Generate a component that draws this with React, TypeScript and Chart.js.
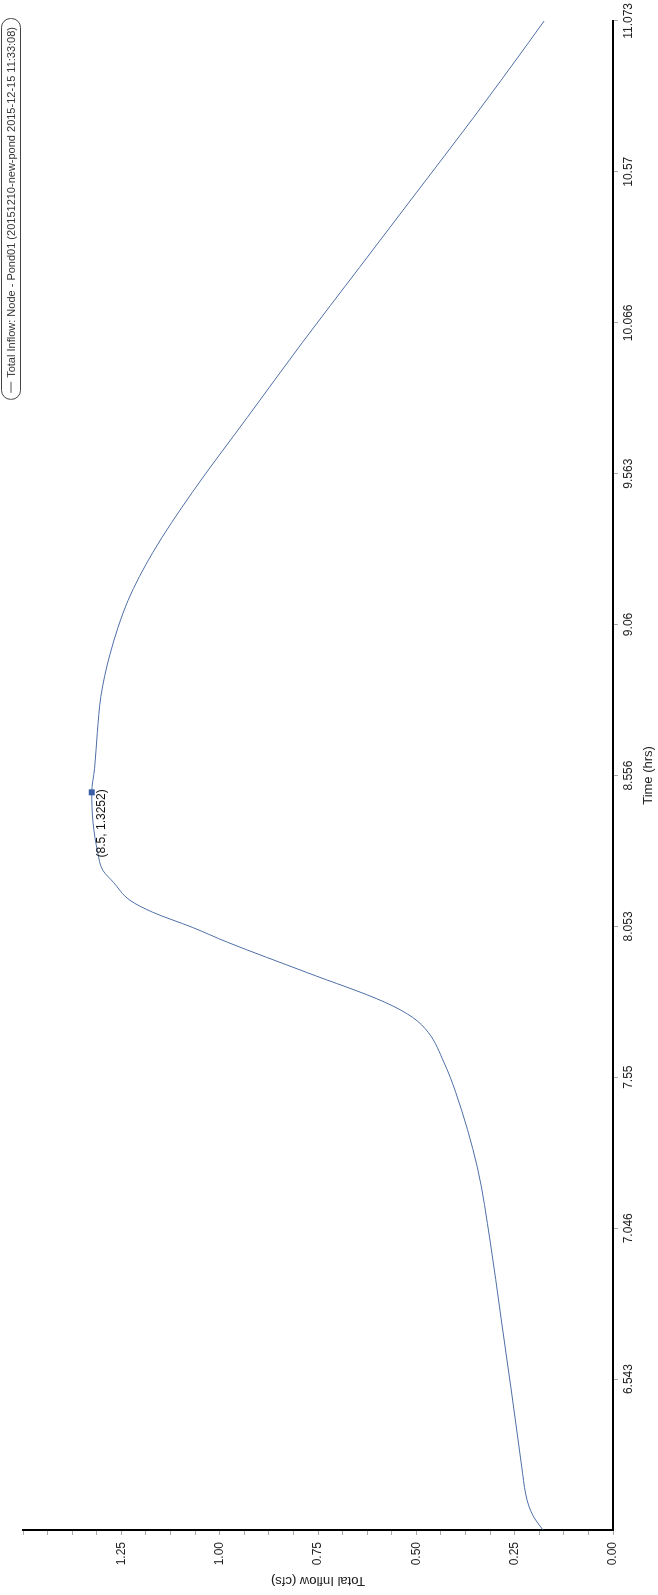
import React, { useEffect, useRef } from "react";
import { Chart, registerables } from "chart.js";

Chart.register(...registerables);

// ---- data ----
const TIME_HRS = [
  6.04, 6.08, 6.12, 6.16, 6.25, 6.5, 6.75, 7.0, 7.25, 7.5, 7.6, 7.7, 7.75, 7.8,
  7.9, 8.0, 8.05, 8.1, 8.14, 8.2, 8.24, 8.3, 8.4, 8.5, 8.58, 8.7, 8.82, 8.96,
  9.14, 9.3, 9.5, 9.75, 10.0, 10.25, 10.5, 10.75, 11.0, 11.073,
];
const TOTAL_INFLOW = [
  0.178, 0.2, 0.214, 0.222, 0.232, 0.258, 0.285, 0.312, 0.345, 0.4, 0.43, 0.47,
  0.51, 0.58, 0.78, 0.98, 1.07, 1.17, 1.228, 1.27, 1.297, 1.31, 1.322, 1.3252,
  1.318, 1.311, 1.302, 1.279, 1.233, 1.17, 1.07, 0.93, 0.79, 0.645, 0.5, 0.355,
  0.215, 0.175,
];
const TIME_TICKS = [6.543, 7.046, 7.55, 8.053, 8.556, 9.06, 9.563, 10.066, 10.57, 11.073];
const TIME_MIN = 6.0397;
const TIME_MAX = 11.073;
const INFLOW_LABELED_TICKS = [0, 0.25, 0.5, 0.75, 1.0, 1.25];
const INFLOW_MAX = 1.5;
const INFLOW_MINOR_STEP = 0.0625;
const PEAK_TIME = 8.5;
const PEAK_VALUE = 1.3252;
const PEAK_LABEL = "(8.5, 1.3252)";
const LEGEND_TEXT = "Total Inflow: Node - Pond01 (20151210-new-pond 2015-12-15 11:33:08)";
const X_TITLE = "Time (hrs)";
const Y_TITLE = "Total Inflow (cfs)";

const LINE_COLOR = "#4f6fa6";
const FONT = "'Liberation Sans', Arial, sans-serif";

const W = 1595; // unrotated width
const H = 658; // unrotated height

export default function App() {
  const ref = useRef<HTMLCanvasElement | null>(null);

  useEffect(() => {
    document.body.style.margin = "0";
    const canvas = ref.current;
    if (!canvas) return;

    const overlay = {
      id: "overlay",
      afterDatasetsDraw(chart: any) {
        const ctx = chart.ctx;
        const xs = chart.scales.x;
        const ys = chart.scales.y;
        const px = xs.getPixelForValue(PEAK_TIME);
        const py = ys.getPixelForValue(PEAK_VALUE);
        ctx.save();
        ctx.fillStyle = "#3b5ea8";
        ctx.fillRect(px - 3, py - 3, 6, 6);
        ctx.fillStyle = "#111";
        ctx.font = `12px ${FONT}`;
        ctx.textAlign = "right";
        ctx.textBaseline = "top";
        ctx.fillText(PEAK_LABEL, px + 3, py + 4);
        ctx.restore();
      },
      afterDraw(chart: any) {
        const ctx = chart.ctx;
        ctx.save();
        ctx.font = `11px ${FONT}`;
        const tw = ctx.measureText(LEGEND_TEXT).width;
        const right = 1576;
        const boxW = tw + 30;
        const left = right - boxW;
        const top = 1;
        const h = 19;
        ctx.strokeStyle = "#444";
        ctx.lineWidth = 1;
        ctx.beginPath();
        (ctx as any).roundRect(left + 0.5, top + 0.5, boxW, h, 9);
        ctx.stroke();
        ctx.strokeStyle = "#555";
        ctx.beginPath();
        ctx.moveTo(left + 7, top + h / 2 + 0.5);
        ctx.lineTo(left + 18, top + h / 2 + 0.5);
        ctx.stroke();
        ctx.fillStyle = "#333";
        ctx.textAlign = "left";
        ctx.textBaseline = "middle";
        ctx.fillText(LEGEND_TEXT, left + 22, top + h / 2 + 1);
        ctx.restore();
      },
    };

    const chart = new Chart(canvas, {
      type: "line",
      data: {
        datasets: [
          {
            label: LEGEND_TEXT,
            data: TIME_HRS.map((t, i) => ({ x: t, y: TOTAL_INFLOW[i] })),
            borderColor: LINE_COLOR,
            borderWidth: 1,
            pointRadius: 0,
            tension: 0.3,
            cubicInterpolationMode: "monotone",
            fill: false,
          },
        ],
      },
      options: {
        animation: false,
        responsive: false,
        devicePixelRatio: 1,
        layout: { padding: { left: 0, right: 20, top: 23, bottom: 0 } },
        plugins: { legend: { display: false }, tooltip: { enabled: false } },
        scales: {
          x: {
            type: "linear",
            min: TIME_MIN,
            max: TIME_MAX,
            afterBuildTicks: (s: any) => {
              s.ticks = TIME_TICKS.map((v) => ({ value: v }));
            },
            afterFit: (s: any) => {
              s.height = 45;
            },
            ticks: {
              autoSkip: false,
              maxRotation: 0,
              padding: 3,
              color: "#222",
              font: { family: FONT, size: 12 },
              callback: (v: any, i: number) => TIME_TICKS[i]?.toString() ?? "",
            },
            grid: {
              drawOnChartArea: false,
              drawTicks: true,
              tickLength: 5,
              tickColor: "#aaa",
            },
            border: { display: true, color: "#000", width: 2 },
            title: {
              display: true,
              text: X_TITLE,
              color: "#222",
              font: { family: FONT, size: 13 },
              padding: { top: 0, bottom: 2 },
            },
          },
          y: {
            type: "linear",
            min: 0,
            max: INFLOW_MAX,
            afterBuildTicks: (s: any) => {
              const t: any[] = [];
              for (let v = 0; v <= INFLOW_MAX + 1e-9; v += INFLOW_MINOR_STEP) t.push({ value: v });
              s.ticks = t;
            },
            afterFit: (s: any) => {
              s.width = 65;
            },
            ticks: {
              autoSkip: false,
              padding: 7,
              color: "#222",
              font: { family: FONT, size: 12 },
              callback: (v: any) => {
                const hit = INFLOW_LABELED_TICKS.find((l) => Math.abs(l - v) < 1e-6);
                return hit === undefined ? "" : hit.toFixed(2);
              },
            },
            grid: {
              drawOnChartArea: false,
              drawTicks: true,
              tickLength: 5,
              tickColor: "#aaa",
            },
            border: { display: true, color: "#000", width: 2 },
            title: {
              display: true,
              text: Y_TITLE,
              color: "#222",
              font: { family: FONT, size: 13 },
              padding: { top: 7, bottom: 0 },
            },
          },
        },
      },
      plugins: [overlay],
    });
    return () => chart.destroy();
  }, []);

  return (
    <div
      style={{
        position: "relative",
        width: H,
        height: W,
        overflow: "hidden",
        background: "#fff",
      }}
    >
      <div
        style={{
          position: "absolute",
          left: 0,
          top: 0,
          width: W,
          height: H,
          transformOrigin: "0 0",
          transform: `translateY(${W}px) rotate(-90deg)`,
        }}
      >
        <canvas ref={ref} width={W} height={H} style={{ width: W, height: H, display: "block" }} />
      </div>
    </div>
  );
}
